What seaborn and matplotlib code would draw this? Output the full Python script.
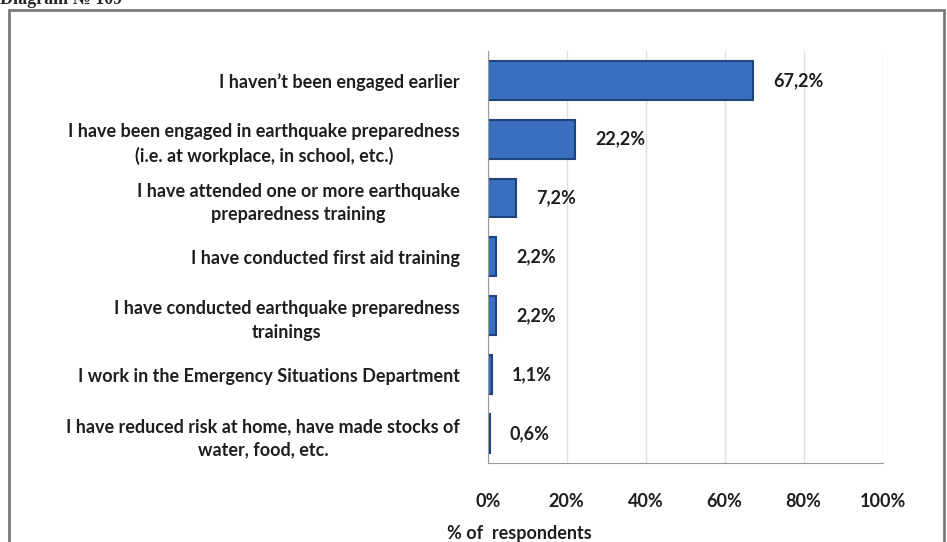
import pandas as pd
import matplotlib.pyplot as plt
import seaborn as sns
from matplotlib.patches import Rectangle

# data
answers = [
    "I haven\u2019t been engaged earlier",
    "I have been engaged in earthquake preparedness\n(i.e. at workplace, in school, etc.)",
    "I have attended one or more earthquake\npreparedness training",
    "I have conducted first aid training",
    "I have conducted earthquake preparedness\ntrainings",
    "I work in the Emergency Situations Department",
    "I have reduced risk at home, have made stocks of\nwater, food, etc.",
]
shares = [67.2, 22.2, 7.2, 2.2, 2.2, 1.1, 0.6]
value_labels = ["67,2%", "22,2%", "7,2%", "2,2%", "2,2%", "1,1%", "0,6%"]
x_ticks = [0, 20, 40, 60, 80, 100]

df = pd.DataFrame({"answer": answers, "share": shares})

sns.set_style("white")
plt.rcParams["font.family"] = ["Lato", "DejaVu Sans"]

fs = 13
txt_col = "#1e1e1e"

fig = plt.figure(figsize=(9.47, 5.42), dpi=100)
ax = fig.add_axes([0.515, 0.146, 0.417, 0.76])

sns.barplot(data=df, y="answer", x="share", orient="h", color="#3a6fbf",
            saturation=1, width=0.66, edgecolor="#1f437c", linewidth=1.5, ax=ax)

for i, (v, lab) in enumerate(zip(shares, value_labels)):
    ax.text(v + 5, i, lab, va="center", ha="left", fontsize=fs,
            fontweight="bold", color=txt_col)

ax.set_xlim(0, 100)
ax.set_xticks(x_ticks)
ax.set_xticklabels([f"{t}%" for t in x_ticks], fontsize=fs, fontweight="bold",
                   color=txt_col)
ax.tick_params(axis="x", pad=18, length=4, color="#999999")
ax.tick_params(axis="y", length=0, pad=20)
for lab in ax.get_yticklabels():
    lab.set_fontsize(fs)
    lab.set_fontweight("bold")
    lab.set_color(txt_col)
    lab.set_multialignment("center")
    lab.set_linespacing(1.45)
ax.set_ylabel("")
ax.set_xlabel("% of  respondents", fontsize=fs, fontweight="bold", color=txt_col)
ax.xaxis.set_label_coords(0.08, -0.15)

ax.grid(axis="x", color="#e0e0e0", linewidth=1)
ax.set_axisbelow(True)
for s in ["top", "right"]:
    ax.spines[s].set_visible(False)
ax.spines["left"].set_color("#9a9a9a")
ax.spines["bottom"].set_color("#9a9a9a")

# outer frame and cut-off heading
fig.patches.append(Rectangle((0.009, -0.01), 0.988, 0.992, transform=fig.transFigure,
                             fill=False, edgecolor="#7a7a7a", linewidth=2))
fig.text(0.0, 0.993, "Diagram \u2116 109", family="Liberation Serif",
         fontweight="bold", fontsize=13, va="baseline", ha="left")

fig.savefig("out.png", dpi=100)
